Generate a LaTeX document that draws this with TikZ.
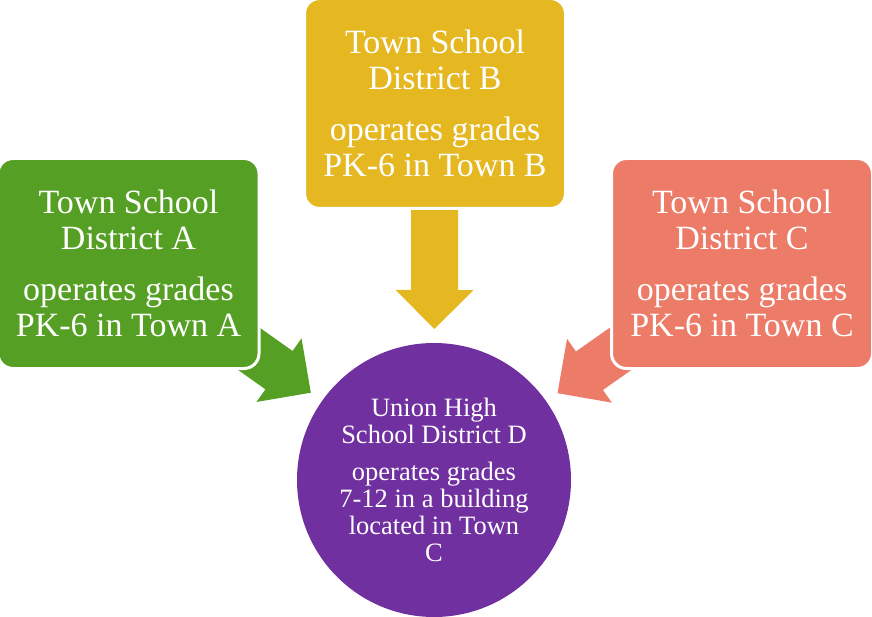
\documentclass[tikz,border=0pt]{standalone}
\usepackage{fontspec}
\setmainfont{Liberation Serif}
\usetikzlibrary{calc,backgrounds}
\definecolor{distA}{HTML}{55A024}
\definecolor{distB}{HTML}{E5B822}
\definecolor{distC}{HTML}{EC7B68}
\definecolor{unionD}{HTML}{7030A0}

\begin{document}
\begin{tikzpicture}[x=1pt,y=-1pt,
  district/.style={rectangle, rounded corners=15pt, draw=white, line width=3pt,
    text=white, minimum width=261pt, minimum height=210pt, align=center,
    font=\fontsize{34}{35.5}\selectfont},
  union/.style={circle, minimum size=274pt, inner sep=0pt, text=white, align=center,
    font=\fontsize{26.5}{27}\selectfont}]
   \useasboundingbox (0,0) rectangle (872,617);
   \node[district, fill=distA] (ta) at (128.5,263.5) {Town School\\District A\\[16pt]operates grades\\PK-6 in Town A};
   \node[district, fill=distB] (tb) at (435,103.5) {Town School\\District B\\[16pt]operates grades\\PK-6 in Town B};
   \node[district, fill=distC] (tc) at (742,263.5) {Town School\\District C\\[16pt]operates grades\\PK-6 in Town C};
   \node[union, fill=unionD] (ud) at (434,480) {Union High\\School District D\\[10pt]operates grades\\7-12 in a building\\located in Town\\C};
   \begin{scope}[on background layer]
   \foreach \src/\col in {ta/distA, tb/distB, tc/distC} { % block arrows into the union
     \coordinate (tip) at ($(ud.center)!151pt!(\src.center)$);
     \coordinate (base) at ($(ud.center)!190pt!(\src.center)$);
     \fill[\col] (tip) -- ($(base)!39pt!90:(tip)$) -- ($(base)!23.5pt!90:(tip)$)
       -- ($(\src.center)!23.5pt!90:(base)$) -- ($(\src.center)!23.5pt!-90:(base)$)
       -- ($(base)!23.5pt!-90:(tip)$) -- ($(base)!39pt!-90:(tip)$) -- cycle;
   }
   \end{scope}
\end{tikzpicture}
\end{document}
